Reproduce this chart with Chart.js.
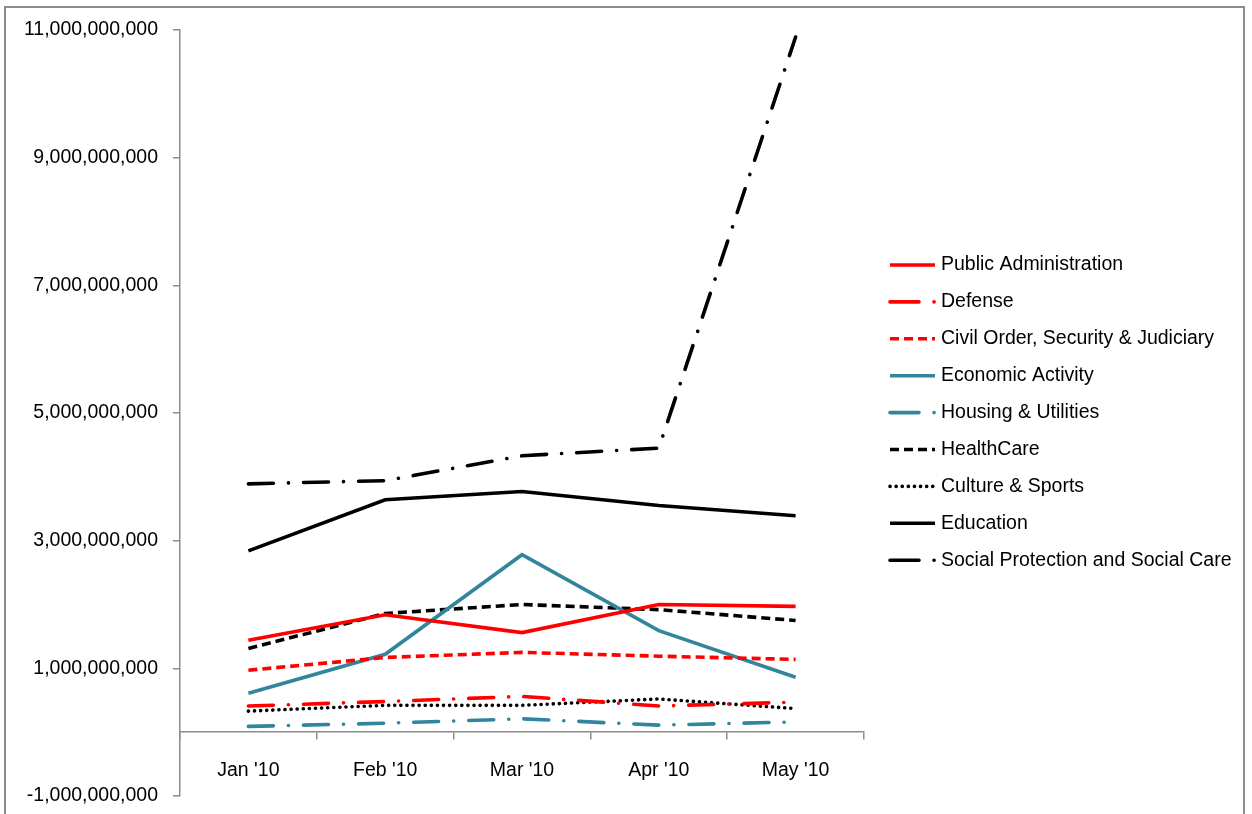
<!DOCTYPE html>
<html>
<head>
<meta charset="utf-8">
<script src="https://cdn.jsdelivr.net/npm/chart.js@4.4.1/dist/chart.umd.min.js"></script>
<style>
    html, body { margin: 0; padding: 0; background: #fff; overflow: hidden; }
    #frame {
        position: absolute; left: 4px; top: 6px; width: 1241px; height: 830px;
        border: 2px solid #8c8c8c; box-sizing: border-box;
    }
    #chart { position: absolute; left: 0; top: 0; }
</style>
</head>
<body>
<div id="frame"></div>
<canvas id="chart" width="1252" height="814"></canvas>
<script>
// Months
const months = ["Jan '10", "Feb '10", "Mar '10", "Apr '10", "May '10"];

// Values
const publicAdministration = [1440000000, 1840000000, 1560000000, 2000000000, 1970000000];
const defense = [410000000, 480000000, 560000000, 410000000, 470000000];
const civilOrder = [970000000, 1170000000, 1250000000, 1190000000, 1140000000];
const economicActivity = [610000000, 1220000000, 2780000000, 1590000000, 860000000];
const housingUtilities = [90000000, 140000000, 210000000, 110000000, 160000000];
const healthCare = [1310000000, 1860000000, 2000000000, 1920000000, 1750000000];
const cultureSports = [330000000, 420000000, 420000000, 520000000, 370000000];
const education = [2840000000, 3640000000, 3770000000, 3550000000, 3390000000];
const socialProtection = [3890000000, 3940000000, 4330000000, 4450000000, 10890000000];

// Y axis ticks
const yTicks = [-1000000000, 1000000000, 3000000000, 5000000000, 7000000000, 9000000000, 11000000000];

const RED = '#ff0000';
const TEAL = '#31859c';
const BLACK = '#000000';
const FONT = "'Liberation Sans', Arial, sans-serif";
const FONT_SIZE = 19.5;

const DASH_DOT = [25, 15, 0.1, 15];

function series(label, data, color, dash, cap) {
    return {
        label,
        data,
        borderColor: color,
        backgroundColor: color,
        borderWidth: 3.6,
        borderDash: dash,
        borderCapStyle: cap || 'butt',
        pointRadius: 0,
        pointHoverRadius: 0,
        tension: 0,
        fill: false
    };
}

const datasets = [
    series('Public Administration', publicAdministration, RED, []),
    series('Defense', defense, RED, DASH_DOT, 'round'),
    series('Civil Order, Security & Judiciary', civilOrder, RED, [9, 5]),
    series('Economic Activity', economicActivity, TEAL, []),
    series('Housing & Utilities', housingUtilities, TEAL, DASH_DOT, 'round'),
    series('HealthCare', healthCare, BLACK, [9, 5]),
    series('Culture & Sports', cultureSports, BLACK, [0.1, 6], 'round'),
    series('Education', education, BLACK, []),
    series('Social Protection and Social Care', socialProtection, BLACK, DASH_DOT, 'round')
];

// Legend drawn at fixed place on the right
const sideLegend = {
    id: 'sideLegend',
    afterDraw(chart) {
        const ctx = chart.ctx;
        const x0 = 890, len = 45, textX = 941, y0 = 265, step = 36.9;
        ctx.save();
        ctx.font = FONT_SIZE + 'px ' + FONT;
        ctx.textBaseline = 'middle';
        chart.data.datasets.forEach((ds, i) => {
            const y = y0 + i * step;
            ctx.beginPath();
            ctx.strokeStyle = ds.borderColor;
            ctx.lineWidth = 3.6;
            ctx.lineCap = ds.borderCapStyle;
            let dash = ds.borderDash;
            if (dash.length === 4) dash = [29, 15, 0.1, 30];
            ctx.setLineDash(dash);
            ctx.moveTo(x0, y);
            ctx.lineTo(x0 + len, y);
            ctx.stroke();
            ctx.setLineDash([]);
            ctx.fillStyle = '#000';
            ctx.fillText(ds.label, textX, y);
        });
        ctx.restore();
    }
};

new Chart(document.getElementById('chart'), {
    type: 'line',
    data: { labels: months, datasets },
    options: {
        responsive: false,
        animation: false,
        layout: { padding: { left: 4, top: 30, right: 388, bottom: 18 } },
        plugins: {
            legend: { display: false },
            title: { display: false },
            tooltip: { enabled: false }
        },
        scales: {
            x: {
                type: 'category',
                position: { y: 0 },
                offset: true,
                afterFit(scale) {
                    scale.height = 0;
                },
                border: { color: '#8c8c8c', width: 1.5 },
                grid: { offset: true, drawOnChartArea: false, drawTicks: true, tickLength: 7, color: '#8c8c8c', lineWidth: 1.5 },
                ticks: { color: '#000', padding: 20, font: { family: FONT, size: FONT_SIZE } }
            },
            y: {
                min: -1000000000,
                max: 11000000000,
                afterBuildTicks(scale) {
                    scale.ticks = yTicks.map(v => ({ value: v }));
                },
                afterFit(scale) {
                    scale.width = 176;
                    scale.paddingTop = 0;
                    scale.paddingBottom = 0;
                },
                border: { color: '#8c8c8c', width: 1.5 },
                grid: { drawOnChartArea: false, drawTicks: true, tickLength: 7, color: '#8c8c8c', lineWidth: 1.5 },
                ticks: {
                    color: '#000',
                    padding: 15,
                    font: { family: FONT, size: FONT_SIZE },
                    callback: v => v.toLocaleString('en-US')
                }
            }
        }
    },
    plugins: [sideLegend]
});
</script>
</body>
</html>
